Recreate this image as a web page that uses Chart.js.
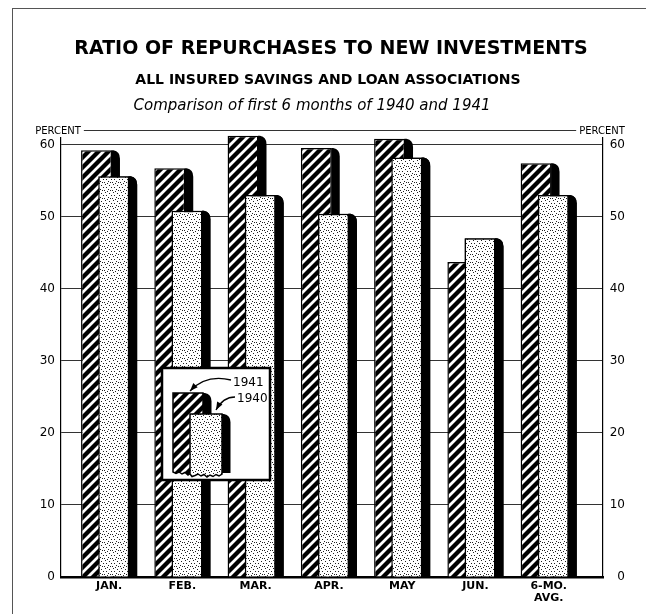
<!DOCTYPE html>
<html>
<head>
<meta charset="utf-8">
<title>Ratio of repurchases to new investments</title>
<script src="https://cdn.jsdelivr.net/npm/chart.js@4.4.1/dist/chart.umd.min.js"></script>
<style>
    html, body { margin: 0; padding: 0; background: #fff; }
    canvas { display: block; }
</style>
</head>
<body>
<canvas id="chartArea" width="646" height="614"></canvas>
<script>
// values (percent)
var months = ['JAN.', 'FEB.', 'MAR.', 'APR.', 'MAY', 'JUN.', ['6-MO.', 'AVG.']];
var ratio1941 = [59.2, 56.7, 61.2, 59.5, 60.8, 43.7, 57.4];
var ratio1940 = [55.6, 50.8, 53.0, 50.4, 58.2, 47.0, 53.0];
var yTicks = [0, 10, 20, 30, 40, 50, 60];
var years = ['1941', '1940'];

var SHADOW = 8.5;
var TEAR = [0, 2, 0.5, 2.5, 1, 3, 0.5, 2, 0, 1.5, 2.5];
var ctx = document.getElementById('chartArea').getContext('2d');

function makeHatch() {
    var s = 10;
    var c = document.createElement('canvas');
    c.width = s; c.height = s;
    var g = c.getContext('2d');
    g.fillStyle = '#fff';
    g.fillRect(0, 0, s, s);
    g.strokeStyle = '#000';
    g.lineWidth = 4.3;
    g.lineCap = 'square';
    g.beginPath();
    for (var k = -1; k <= 1; k++) {
        g.moveTo(k * s, s);
        g.lineTo(k * s + s, 0);
    }
    g.stroke();
    return ctx.createPattern(c, 'repeat');
}

function makeStipple() {
    var c = document.createElement('canvas');
    c.width = 8; c.height = 8;
    var g = c.getContext('2d');
    g.fillStyle = '#fff';
    g.fillRect(0, 0, 8, 8);
    g.fillStyle = '#222';
    var dots = [[1, 0], [5, 1], [2, 3], [7, 3], [4, 5], [0, 6], [6, 6], [3, 7]];
    dots.forEach(function (d) { g.fillRect(d[0], d[1], 1, 1); });
    return ctx.createPattern(c, 'repeat');
}

var hatch = makeHatch();
var stipple = makeStipple();

function shadowPath(c, right, top, bottom) {
    c.beginPath();
    c.moveTo(right, top);
    c.lineTo(right + 2, top);
    c.quadraticCurveTo(right + SHADOW, top + 1, right + SHADOW, top + SHADOW);
    c.lineTo(right + SHADOW, bottom);
    c.lineTo(right, bottom);
    c.closePath();
}

function drawShadows(c, meta) {
    c.save();
    c.fillStyle = '#000';
    meta.data.forEach(function (bar) {
        var p = bar.getProps(['x', 'y', 'base', 'width'], true);
        shadowPath(c, p.x + p.width / 2 - 0.5, p.y, p.base);
        c.fill();
    });
    c.restore();
}

function drawKeyBar(c, left, right, top, bottom, fill) {
    c.fillStyle = '#000';
    shadowPath(c, right, top, bottom - 1);
    c.fill();
    c.beginPath();
    c.moveTo(left, top);
    c.lineTo(right, top);
    c.lineTo(right, bottom);
    for (var x = right, k = 0; x > left; x -= 3, k++) {
        c.lineTo(x, bottom + TEAR[k % TEAR.length]);
    }
    c.lineTo(left, bottom);
    c.closePath();
    c.fillStyle = fill;
    c.fill();
    c.lineWidth = 1.5;
    c.strokeStyle = '#000';
    c.stroke();
}

function drawArrow(c, x0, y0, cx, cy, x1, y1) {
    c.beginPath();
    c.moveTo(x0, y0);
    c.quadraticCurveTo(cx, cy, x1, y1);
    c.lineWidth = 1.3;
    c.stroke();
    var a = Math.atan2(y1 - cy, x1 - cx);
    var dx = Math.cos(a), dy = Math.sin(a);
    c.beginPath();
    c.moveTo(x1, y1);
    c.lineTo(x1 - dx * 8 - dy * 3, y1 - dy * 8 + dx * 3);
    c.lineTo(x1 - dx * 8 + dy * 3, y1 - dy * 8 - dx * 3);
    c.closePath();
    c.fill();
}

function drawKey(c) {
    c.save();
    c.fillStyle = '#fff';
    c.fillRect(162, 368, 108, 112);
    c.lineWidth = 2.5;
    c.strokeStyle = '#000';
    c.strokeRect(162, 368, 108, 112);
    drawKeyBar(c, 173, 203, 393, 472, hatch);
    drawKeyBar(c, 190, 222, 414, 474, stipple);
    c.fillStyle = '#000';
    c.strokeStyle = '#000';
    drawArrow(c, 231, 380, 206, 374, 190, 391);
    drawArrow(c, 235, 397, 223, 397, 216, 410);
    c.font = '12px "DejaVu Sans"';
    c.textAlign = 'left';
    c.textBaseline = 'alphabetic';
    c.fillText(years[0], 233, 386);
    c.fillText(years[1], 237, 402);
    c.restore();
}

function drawPercent(c, text, x, y) {
    c.font = '10px "DejaVu Sans"';
    var w = c.measureText(text).width;
    c.fillStyle = '#fff';
    c.fillRect(x - w / 2 - 3, y - 7, w + 6, 13);
    c.fillStyle = '#000';
    c.textAlign = 'center';
    c.textBaseline = 'middle';
    c.fillText(text, x, y);
}

var decorations = {
    id: 'decorations',
    beforeDraw: function (chart) {
        var c = chart.ctx;
        c.save();
        c.strokeStyle = '#555';
        c.lineWidth = 1;
        c.beginPath();
        c.moveTo(12, 8.5);
        c.lineTo(646, 8.5);
        c.moveTo(12.5, 8);
        c.lineTo(12.5, 614);
        c.stroke();
        c.restore();
    },
    beforeDatasetDraw: function (chart, args) {
        drawShadows(chart.ctx, args.meta);
    },
    afterDatasetsDraw: function (chart) {
        // 1940 bars stand in front of the 1941 bars
        var meta = chart.getDatasetMeta(1);
        drawShadows(chart.ctx, meta);
        meta.controller.draw();
    },
    afterDraw: function (chart) {
        var c = chart.ctx;
        c.save();
        drawKey(c);
        drawPercent(c, 'PERCENT', 58, 131);
        drawPercent(c, 'PERCENT', 602, 131);
        c.fillStyle = '#000';
        c.textAlign = 'center';
        c.textBaseline = 'alphabetic';
        c.font = 'bold 19px "DejaVu Sans"';
        c.fillText('RATIO OF REPURCHASES TO NEW INVESTMENTS', 331, 54);
        c.font = 'bold 14px "DejaVu Sans"';
        c.fillText('ALL INSURED SAVINGS AND LOAN ASSOCIATIONS', 328, 84);
        c.font = 'italic 15px "DejaVu Sans"';
        c.fillText('Comparison of first 6 months of 1940 and 1941', 312, 110);
        c.restore();
    }
};

function yLabel(value) {
    return yTicks.indexOf(value) >= 0 ? value : '';
}

var config = {
    type: 'bar',
    data: {
        datasets: [{
            label: years[0],
            data: ratio1941.map(function (v, i) { return { x: i, y: v }; }),
            backgroundColor: hatch,
            borderColor: '#000',
            borderWidth: 1.5,
            categoryPercentage: 0.469,
            barPercentage: 1.8
        }, {
            label: years[1],
            data: ratio1940.map(function (v, i) { return { x: i, y: v }; }),
            backgroundColor: stipple,
            borderColor: '#000',
            borderWidth: 1.5,
            categoryPercentage: 0.469,
            barPercentage: 1.8
        }]
    },
    options: {
        responsive: false,
        animation: false,
        events: [],
        layout: { padding: { top: 130, left: 0, right: 21, bottom: 0 } },
        plugins: {
            legend: { display: false },
            tooltip: { enabled: false }
        },
        scales: {
            x: {
                type: 'linear',
                offset: false,
                min: -0.602,
                max: 6.796,
                grid: { display: false, drawTicks: false, offset: false },
                border: { display: true, color: '#000', width: 2.5 },
                ticks: {
                    stepSize: 1,
                    includeBounds: false,
                    autoSkip: false,
                    maxRotation: 0,
                    padding: 3,
                    labelOffset: 4,
                    color: '#000',
                    font: { family: 'DejaVu Sans', size: 11, weight: 'bold', lineHeight: 1.1 },
                    callback: function (value) { return months[value]; }
                },
                afterFit: function (scale) { scale.height = 37; }
            },
            y: {
                position: 'left',
                min: 0,
                max: 62,
                grid: { color: '#333', lineWidth: 1, drawTicks: false },
                border: { display: true, color: '#000', width: 1.2 },
                ticks: {
                    stepSize: 10,
                    padding: 6,
                    color: '#000',
                    font: { family: 'DejaVu Sans', size: 12 },
                    callback: yLabel
                },
                afterFit: function (scale) { scale.width = 61; }
            },
            y2: {
                position: 'right',
                min: 0,
                max: 62,
                grid: { display: false, drawTicks: false },
                border: { display: true, color: '#000', width: 1.2 },
                ticks: {
                    stepSize: 10,
                    crossAlign: 'far',
                    color: '#000',
                    font: { family: 'DejaVu Sans', size: 12 },
                    callback: yLabel
                },
                afterFit: function (scale) { scale.width = 22; }
            }
        }
    },
    plugins: [decorations]
};

var myNewChart = new Chart(ctx, config);
</script>
</body>
</html>
